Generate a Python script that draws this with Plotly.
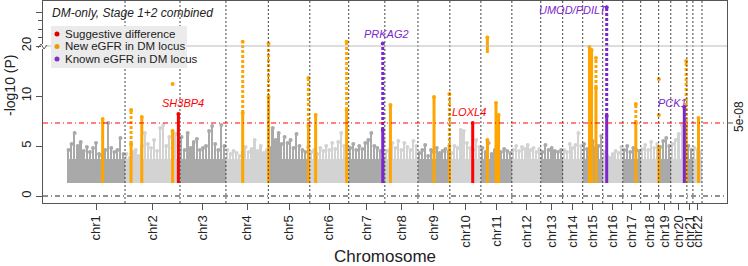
import numpy as np
import plotly.graph_objects as go

# ---------------- data ----------------
chrom_names = [f"chr{i}" for i in range(1, 23)]
chrom_len_mb = [249, 236, 197, 182, 178, 167, 155, 142, 137, 133, 133,
                124, 94, 86, 86, 86, 77, 77, 52, 69, 26, 39]

# dense floor of the background SNP cloud and tops (-log10 P) of its peaks, evenly spaced along each chromosome
gray_floor = 3.7
gray_chr1 = [4.6, 5.2, 6.3, 5.0, 5.4, 4.5, 4.9, 4.4, 4.8, 5.3, 4.2, 4.0, 4.6, 7.3, 4.8, 4.4, 4.6, 5.8, 4.2]
gray_chr2 = [4.2, 3.8, 4.4, 4.6, 4.0, 5.0, 6.3, 5.2, 4.8, 5.6, 4.5, 6.8, 7.1, 5.0, 5.9, 4.8, 6.2, 5.0]
gray_chr3 = [5.9, 4.6, 6.3, 4.8, 5.4, 5.7, 4.6, 4.8, 5.0, 6.5, 7.0, 5.2, 4.6, 7.1, 5.0]
gray_chr4 = [4.6, 4.2, 4.5, 4.3, 4.0, 4.4, 4.9, 4.4, 4.7, 5.6, 4.5, 5.0, 4.3, 4.6]
gray_chr5 = [4.8, 6.8, 5.6, 6.3, 5.2, 5.9, 5.3, 5.6, 4.8, 6.2, 5.0, 4.6, 4.4, 4.9]
gray_chr6 = [4.4, 4.6, 4.2, 4.8, 4.5, 5.0, 4.6, 5.3, 4.7, 5.4, 6.3, 5.0, 4.6]
gray_chr7 = [4.8, 5.2, 4.6, 5.0, 4.7, 5.3, 5.6, 6.3, 5.0, 4.8, 4.5, 5.5]
gray_chr8 = [4.5, 4.6, 5.3, 4.8, 5.5, 4.6, 5.3, 4.9, 4.6, 5.5, 5.0]
gray_chr9 = [4.3, 4.6, 5.1, 4.0, 4.6, 4.4, 4.8, 4.3, 4.5, 4.7, 4.4]
gray_chr10 = [4.3, 5.0, 4.8, 6.6, 6.5, 5.3, 4.8, 4.6, 5.6, 4.9]
gray_chr11 = [4.8, 4.4, 5.3, 4.2, 4.6, 4.9, 4.4, 4.7, 4.5, 4.3]
gray_chr12 = [4.6, 5.0, 4.5, 4.9, 4.7, 5.1, 4.6, 4.8, 4.4, 4.7]
gray_chr13 = [4.4, 5.1, 4.6, 4.8, 4.5, 4.4, 4.6]
gray_chr14 = [4.6, 4.4, 5.2, 4.8, 5.1, 6.3, 5.0]
gray_chr15 = [5.2, 4.7, 4.6, 5.5, 4.8, 5.0, 6.0]
gray_chr16 = [4.4, 4.0, 3.8, 4.2, 4.5, 4.3, 4.9]
gray_chr17 = [4.6, 5.0, 4.4, 4.8, 4.6, 4.5]
gray_chr18 = [4.7, 5.1, 4.6, 5.4, 4.8, 5.2]
gray_chr19 = [4.9, 5.5, 5.8, 5.0]
gray_chr20 = [5.2, 5.6, 6.2, 7.1, 5.0]
gray_chr21 = [5.0, 4.6]
gray_chr22 = [4.8, 4.6, 4.4]

# highlighted loci: runs of SNPs (chromosome, position Mb, lowest / highest -log10 P, run style, category)
seg_chrom = [1, 1, 2, 2, 2, 2, 2, 4, 4, 5, 5, 5, 5, 6, 6, 6, 7, 7, 8, 9, 9, 9, 10, 11, 11, 11, 11,
             15, 15, 15, 15, 16, 16, 17, 17, 19, 20, 20, 20, 22]
seg_pos = [153, 153, 26, 26, 72, 204, 229, 72, 72, 1, 1, 172, 172, 25, 158, 158, 146, 146, 24, 69, 135, 135, 98,
           28, 28, 65, 76, 29, 38, 57, 57, 17, 17, 56, 56, 1, 58, 66, 66, 24]
seg_lo = [1.3, 7.3, 1.3, 5.2, 1.3, 1.3, 1.3, 1.3, 8.3, 1.3, 9.9, 1.3, 7.0, 1.3, 1.3, 8.6, 1.3, 6.6, 1.3, 1.3,
          1.3, 5.0, 1.3, 1.3, 14.3, 1.3, 1.3, 1.3, 1.3, 1.3, 10.8, 1.3, 8.0, 1.3, 7.3, 1.3, 1.3, 1.3, 7.0, 1.3]
seg_hi = [7.3, 7.7, 5.2, 8.6, 7.9, 6.5, 8.2, 8.3, 30, 9.9, 26, 7.0, 11.8, 8.1, 8.6, 30, 6.6, 26, 9.1, 9.9,
          5.0, 10.2, 7.3, 5.6, 40, 9.3, 8.1, 14.9, 14.6, 10.8, 13.8, 8.0, 111, 7.3, 9.2, 4.9, 8.9, 7.0, 13.5, 7.8]
seg_style = ["solid", "dotted", "solid", "dotted", "solid", "solid", "solid", "solid", "dotted", "solid",
             "dotted", "solid", "dotted", "solid", "solid", "dotted", "solid", "dotted", "solid", "solid",
             "solid", "dotted", "solid", "solid", "solid", "solid", "solid", "solid", "solid", "solid",
             "dotted", "solid", "dotted", "solid", "dotted", "solid", "solid", "solid", "dotted", "solid"]
seg_cat = ["new", "new", "new", "new", "new", "new", "sugg", "new", "new", "new", "new", "new", "new", "new",
           "new", "new", "known", "known", "new", "new", "new", "new", "sugg", "new", "new", "new", "new",
           "new", "new", "new", "new", "known", "known", "new", "new", "new", "known", "new", "new", "new"]

# isolated highlighted SNPs
pt_chrom = [2, 19, 19]
pt_pos = [204, 1, 1]
pt_val = [11.2, 8.1, 11.7]
pt_cat = ["new", "new", "new"]

gene_label = ["SH3BP4", "PRKAG2", "LOXL4", "UMOD/PDILT", "PCK1"]
gene_cat = ["sugg", "known", "sugg", "known", "known"]

legend_labels = ["Suggestive difference", "New eGFR in DM locus", "Known eGFR in DM locus"]
ytick_labels = ["0", "5", "10", "20", "100"]
ytick_values = [0, 5, 10, 20, 100]
gw_threshold = 5e-08

# ---------------- helpers ----------------
col_cat = {"sugg": "#FF0000", "new": "#FFA500", "known": "#7D26CD"}
leg_col = ["#E00000", "#E69F00", "#7F2FCF"]
DARK, LIGHT = "#A9A9A9", "#D3D3D3"

def tr(v):
    """broken y axis: linear up to 15, 20..100 compressed above the break"""
    v = np.asarray(v, dtype=float)
    return np.where(v <= 15, v, np.where(v < 20, 15, 15 + (v - 20) * 0.0425))

offsets = np.concatenate([[0], np.cumsum(chrom_len_mb)[:-1]])
total = float(np.sum(chrom_len_mb))

def gx(c, p):
    return float(offsets[c - 1] + p)

# plot area in px
L, R, T, B = 43, 727, 1, 203
def pxx(px):
    return (px - L) / (R - L)
def pxy(py):
    return (B - py) / (B - T)

fig = go.Figure()

# background cloud: dense floor + peaks
gray_lists = [gray_chr1, gray_chr2, gray_chr3, gray_chr4, gray_chr5, gray_chr6, gray_chr7, gray_chr8,
              gray_chr9, gray_chr10, gray_chr11, gray_chr12, gray_chr13, gray_chr14, gray_chr15,
              gray_chr16, gray_chr17, gray_chr18, gray_chr19, gray_chr20, gray_chr21, gray_chr22]
fx, fw, fc = [], [], []
bx, by, bw, bc = [], [], [], []
for i, tops in enumerate(gray_lists):
    colr = DARK if i % 2 == 0 else LIGHT
    fx.append(offsets[i] + chrom_len_mb[i] / 2)
    fw.append(chrom_len_mb[i])
    fc.append(colr)
    n = len(tops)
    w = chrom_len_mb[i] / n
    for j, v in enumerate(tops):
        bx.append(offsets[i] + (j + 0.5) * w)
        by.append(v - 1.3)
        bw.append(w * 0.55)
        bc.append(colr)
fig.add_trace(go.Bar(x=fx, y=[gray_floor - 1.3] * 22, base=1.3, width=fw,
                     marker=dict(color=fc, line=dict(width=0)), hoverinfo="skip"))
fig.add_trace(go.Bar(x=bx, y=by, base=1.3, width=bw, marker=dict(color=bc, line=dict(width=0)),
                     hoverinfo="skip"))
fig.add_trace(go.Scatter(x=bx, y=[v + 1.3 for v in by], mode="markers",
                         marker=dict(color=bc, size=4, line=dict(width=0)), hoverinfo="skip"))

# highlighted loci
for cat in ["new", "known", "sugg"]:
    for style in ["solid", "dotted"]:
        xs, ys = [], []
        for c, p, lo, hi, st, ca in zip(seg_chrom, seg_pos, seg_lo, seg_hi, seg_style, seg_cat):
            if ca == cat and st == style:
                xs += [gx(c, p), gx(c, p), None]
                ys += [float(tr(lo)), float(tr(hi)), None]
        if xs:
            fig.add_trace(go.Scatter(x=xs, y=ys, mode="lines",
                                     line=dict(color=col_cat[cat], width=3,
                                               dash="solid" if style == "solid" else "3px,2px"),
                                     hoverinfo="skip"))
    mx = [gx(c, p) for c, p, ca in zip(seg_chrom, seg_pos, seg_cat) if ca == cat]
    my = [float(tr(h)) for h, ca in zip(seg_hi, seg_cat) if ca == cat]
    mx += [gx(c, p) for c, p, ca in zip(pt_chrom, pt_pos, pt_cat) if ca == cat]
    my += [float(tr(v)) for v, ca in zip(pt_val, pt_cat) if ca == cat]
    fig.add_trace(go.Scatter(x=mx, y=my, mode="markers",
                             marker=dict(color=col_cat[cat], size=4, line=dict(width=0)),
                             hoverinfo="skip"))

shapes = []
for i in range(22):
    xb = float(offsets[i] + chrom_len_mb[i])
    shapes.append(dict(type="line", xref="x", yref="paper", x0=xb, x1=xb, y0=0, y1=1,
                       line=dict(color="#444444", width=1, dash="2px,2px")))
shapes.append(dict(type="line", xref="paper", yref="y", x0=0, x1=1, y0=float(tr(20)), y1=float(tr(20)),
                   line=dict(color="#BBBBBB", width=1)))
thr = float(tr(-np.log10(gw_threshold)))
shapes.append(dict(type="line", xref="paper", yref="y", x0=0, x1=1, y0=thr, y1=thr,
                   line=dict(color="#FF0000", width=1, dash="5px,3px,1px,3px")))
shapes.append(dict(type="line", xref="paper", yref="y", x0=0, x1=1, y0=0, y1=0,
                   line=dict(color="#222222", width=1, dash="5px,3px,1px,3px")))
shapes.append(dict(type="line", xref="paper", yref="y", x0=1, x1=pxx(733), y0=thr, y1=thr,
                   line=dict(color="#555555", width=1)))
shapes.append(dict(type="rect", xref="paper", yref="paper", x0=pxx(41), x1=pxx(45), y0=pxy(49), y1=pxy(44),
                   fillcolor="white", line=dict(width=0)))
shapes.append(dict(type="path", xref="paper", yref="paper",
                   path=f"M {pxx(38)} {pxy(48)} L {pxx(41)} {pxy(44)} L {pxx(44)} {pxy(49)} L {pxx(47)} {pxy(45)}",
                   line=dict(color="#555555", width=1)))
shapes.append(dict(type="rect", xref="paper", yref="paper", x0=pxx(51), x1=pxx(187), y0=pxy(68), y1=pxy(26),
                   fillcolor="#EBEBEB", line=dict(width=0)))
for k in range(3):
    cy = 34 + k * 12.5
    shapes.append(dict(type="circle", xref="paper", yref="paper", x0=pxx(54.5), x1=pxx(59.5),
                       y0=pxy(cy + 2.5), y1=pxy(cy - 2.5), fillcolor=leg_col[k], line=dict(width=0)))

annotations = []
annotations.append(dict(text="<i>DM-only, Stage 1+2 combined</i>", xref="paper", yref="paper",
                        x=pxx(50), y=pxy(13), xanchor="left", yanchor="middle", showarrow=False,
                        font=dict(size=12, color="#222222")))
for k, lab in enumerate(legend_labels):
    annotations.append(dict(text=lab, xref="paper", yref="paper", x=pxx(63), y=pxy(34 + k * 12.5),
                            xanchor="left", yanchor="middle", showarrow=False,
                            font=dict(size=11.5, color="#222222")))
gene_px = [(183, 103), (386, 34), (469, 112), (573, 10), (672, 103)]
for lab, ca, (gxp, gyp) in zip(gene_label, gene_cat, gene_px):
    annotations.append(dict(text=f"<i>{lab}</i>", xref="paper", yref="paper", x=pxx(gxp), y=pxy(gyp),
                            xanchor="center", yanchor="middle", showarrow=False,
                            font=dict(size=11, color=col_cat[ca])))
annotations.append(dict(text="-log10 (P)", xref="paper", yref="paper", x=pxx(10), y=pxy(86),
                        textangle=-90, xanchor="center", yanchor="middle", showarrow=False,
                        font=dict(size=14, color="#222222")))
annotations.append(dict(text="Chromosome", xref="paper", yref="paper", x=0.5, y=pxy(256),
                        xanchor="center", yanchor="middle", showarrow=False,
                        font=dict(size=17, color="#222222")))
annotations.append(dict(text="5e-08", xref="paper", yref="paper", x=pxx(739), y=pxy(117),
                        textangle=-90, xanchor="center", yanchor="middle", showarrow=False,
                        font=dict(size=12, color="#222222")))

centers = [float(offsets[i] + chrom_len_mb[i] / 2) for i in range(22)]
fig.update_layout(
    width=748, height=266, margin=dict(l=L, r=748 - R, t=T, b=266 - B),
    plot_bgcolor="white", paper_bgcolor="white", showlegend=False, bargap=0, barmode="overlay",
    font=dict(family="Liberation Sans, Arial, sans-serif", color="#222222"),
    shapes=shapes, annotations=annotations,
    xaxis=dict(range=[-24 / 0.233, total + 25 / 0.233], tickmode="array", tickvals=centers,
               ticktext=chrom_names, tickangle=-90, ticks="outside", ticklen=6, tickcolor="#555555",
               showline=True, mirror=True, linecolor="#555555", showgrid=False, zeroline=False,
               automargin=False, tickfont=dict(size=13, color="#222222")),
    yaxis=dict(range=[-0.7, 19.5], tickmode="array", tickvals=[float(v) for v in tr(ytick_values)],
               ticktext=ytick_labels, tickangle=-90, ticks="outside", ticklen=6, tickcolor="#555555",
               showline=True, mirror=True, linecolor="#555555", showgrid=False, zeroline=False,
               automargin=False, tickfont=dict(size=13, color="#222222"),
               minor=dict(tickmode="array", tickvals=[float(v) for v in tr([40, 60, 80])],
                          ticks="outside", ticklen=4, tickcolor="#555555")),
)

fig.write_html("out.html", config={"displayModeBar": False},
               post_script="document.body.style.margin='0';document.body.style.overflow='hidden';")
